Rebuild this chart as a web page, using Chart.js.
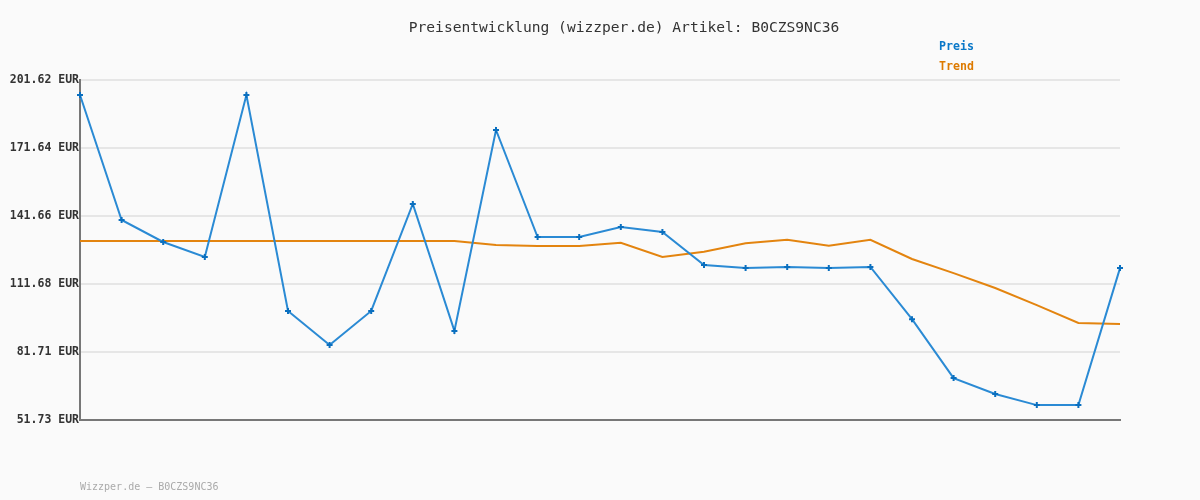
<!DOCTYPE html>
<html>
<head>
<meta charset="utf-8">
<script src="https://cdn.jsdelivr.net/npm/chart.js@4/dist/chart.umd.min.js"></script>
<style>
    html, body { margin: 0; padding: 0; background: #fafafa; }
    #wrap { width: 1200px; height: 500px; position: relative; }
</style>
</head>
<body>
<div id="wrap"><canvas id="priceChart" width="1200" height="500"></canvas></div>
<script>
// --- Data ---
const categories = Array.from({ length: 26 }, (_, i) => String(i + 1));
const preisValues = [195.0, 139.9, 130.2, 123.6, 195.0, 99.8, 84.8, 99.8, 147.0, 91.0,
    179.6, 132.4, 132.4, 136.8, 134.6, 120.1, 118.7, 119.2, 118.7, 119.2,
    96.2, 70.2, 63.2, 58.3, 58.3, 118.7];
const trendValues = [130.6, 130.6, 130.6, 130.6, 130.6, 130.6, 130.6, 130.6, 130.6, 130.6,
    128.9, 128.4, 128.4, 129.9, 123.6, 125.9, 129.6, 131.2, 128.6, 131.2,
    122.7, 116.5, 109.9, 102.4, 94.5, 94.1];
const yTicks = [51.73, 81.71, 111.68, 141.66, 171.64, 201.62];

const titleText = 'Preisentwicklung (wizzper.de) Artikel: B0CZS9NC36';
const footerText = 'Wizzper.de \u2013 B0CZS9NC36';
const monoFont = '"DejaVu Sans Mono", "Liberation Mono", monospace';

// --- Title, legend and footer drawn as text ---
const textPlugin = {
    id: 'textPlugin',
    afterDraw(chart) {
        const ctx = chart.ctx;
        ctx.save();
        ctx.textBaseline = 'middle';

        ctx.font = '14.6px ' + monoFont;
        ctx.fillStyle = '#333';
        ctx.textAlign = 'center';
        ctx.fillText(titleText, 624, 28);

        ctx.font = 'bold 11.6px ' + monoFont;
        ctx.textAlign = 'left';
        chart.data.datasets.forEach((ds, i) => {
            ctx.fillStyle = ds.legendColor;
            ctx.fillText(ds.label, 939, 47 + i * 20);
        });

        ctx.font = '10px ' + monoFont;
        ctx.fillStyle = '#aaa';
        ctx.fillText(footerText, 80, 487);
        ctx.restore();
    }
};

const bgPlugin = {
    id: 'bgPlugin',
    beforeDraw(chart) {
        const ctx = chart.ctx;
        ctx.save();
        ctx.fillStyle = '#fafafa';
        ctx.fillRect(0, 0, chart.width, chart.height);
        ctx.restore();
    }
};

new Chart(document.getElementById('priceChart'), {
    type: 'line',
    data: {
        labels: categories,
        datasets: [{
            label: 'Preis',
            data: preisValues,
            borderColor: '#2a8ad4',
            borderWidth: 2,
            pointStyle: 'cross',
            pointRadius: 3,
            pointBorderColor: '#0a6fbf',
            pointBorderWidth: 2,
            pointBackgroundColor: '#0a6fbf',
            legendColor: '#0a78c8',
            tension: 0,
            order: 1
        }, {
            label: 'Trend',
            data: trendValues,
            borderColor: '#e3840f',
            borderWidth: 2,
            pointRadius: 0,
            legendColor: '#dd7a00',
            tension: 0,
            order: 2
        }]
    },
    options: {
        responsive: false,
        animation: false,
        devicePixelRatio: 1,
        layout: {
            padding: { left: 0, right: 80, top: 80, bottom: 80 }
        },
        plugins: {
            legend: { display: false },
            tooltip: { enabled: false }
        },
        scales: {
            x: {
                offset: false,
                ticks: { display: false },
                grid: { display: false, drawTicks: false },
                border: { color: '#777', width: 2 },
                afterFit(scale) { scale.height = 0; }
            },
            y: {
                min: 51.73,
                max: 201.62,
                afterBuildTicks(scale) {
                    scale.ticks = yTicks.map(v => ({ value: v }));
                },
                ticks: {
                    padding: 1,
                    color: '#333',
                    font: { family: monoFont, size: 11.5, weight: 'bold' },
                    callback: (v) => Number(v).toFixed(2) + ' EUR'
                },
                grid: { color: '#e6e6e6', lineWidth: 2, drawTicks: false },
                border: { color: '#777', width: 2 },
                afterFit(scale) { scale.width = 80; }
            }
        }
    },
    plugins: [bgPlugin, textPlugin]
});
</script>
</body>
</html>
